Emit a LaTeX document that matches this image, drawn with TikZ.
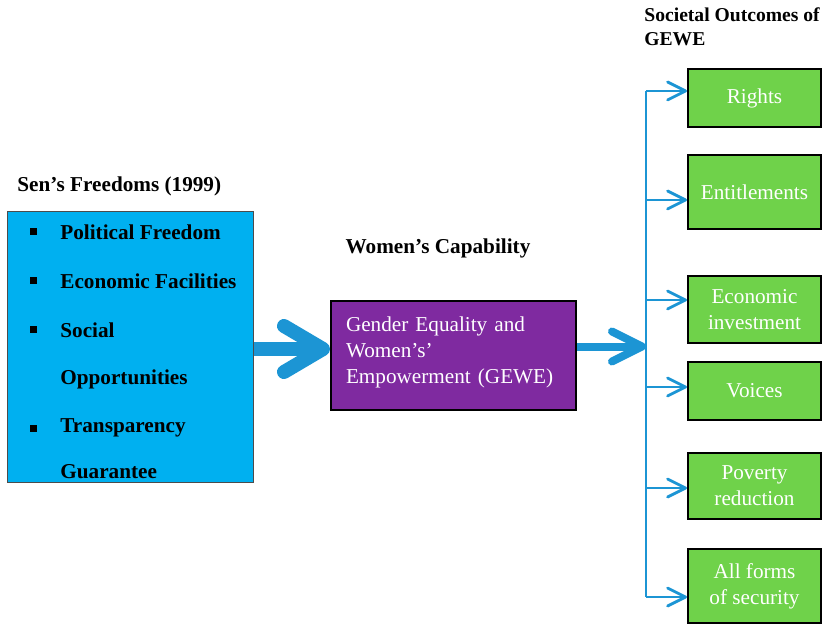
\documentclass[tikz,border=0pt]{standalone}
\usepackage{fontspec}
\setmainfont{Liberation Serif}
\usetikzlibrary{positioning, calc, arrows.meta}
\definecolor{senblue}{HTML}{00B0F0}
\definecolor{gewepurple}{HTML}{7F2AA0}
\definecolor{outgreen}{HTML}{6FD24A}
\definecolor{arrowblue}{HTML}{1C95D4}

\begin{document}
\begin{tikzpicture}[x=0.5pt, y=-0.5pt, font=\fontsize{10.6}{13}\selectfont,
  freedom/.style={anchor=west, inner xsep=0pt, font=\fontsize{10.6}{13}\selectfont\bfseries},
  outcome/.style={draw=black, line width=1pt, fill=outgreen, text=white, minimum width=66.5pt, align=center, inner sep=0pt},
  branch/.style={draw=arrowblue, line width=1.4pt, -{Straight Barb[length=9pt, width=9pt, round]}}]
  \useasboundingbox (0,0) rectangle (822,624);

  % Sen's freedoms
  \node[freedom] (sentitle) at (17,186) {Sen’s Freedoms (1999)};
  \node[draw=black!70, line width=0.5pt, fill=senblue, minimum width=123pt, minimum height=135pt] (sen) at (130,347) {};
  \foreach \y/\txt [count=\i] in {232/Political Freedom, 281/Economic Facilities, 330/Social, 428/Transparency} {
    \node[fill=black, inner sep=0pt, minimum size=3.5pt] (dot\i) at (33,\y) {};
    \node[freedom] (item\i) at (60,\y) {\txt};
  }
  \node[freedom] (item3b) at (60,379) {Opportunities};
  \node[freedom] (item4b) at (60,472) {Guarantee};

  % women's capability
  \node[font=\fontsize{10.6}{13}\selectfont\bfseries] (captitle) at (438,248) {Women’s Capability};
  \node[draw=black, line width=1pt, fill=gewepurple, text=white, minimum width=122.5pt, minimum height=54.5pt,
        text width=107.5pt, align=left, inner xsep=7.5pt] (gewe) at (453.5,355.5)
        {Gender Equality and\\Women’s’\\Empowerment (GEWE)\par\vspace{3pt}};
  \draw[arrowblue, line width=7pt, -{Straight Barb[length=19.5pt, width=23pt, round]}]
    ([yshift=3.25pt]gewe.west -| sen.east) -- ([yshift=3.25pt]gewe.west);

  % societal outcomes
  \node[font=\fontsize{9.8}{12}\selectfont\bfseries, anchor=north west, align=left, inner sep=0pt] (outtitle) at (644,7) {Societal Outcomes of\\GEWE};
  \node[outcome, minimum height=29pt] (rights) at (754.5,98) {Rights};
  \node[outcome, minimum height=37pt] (entitle) at (754.5,192) {Entitlements};
  \node[outcome, minimum height=33.5pt] (invest) at (754.5,309.5) {Economic\\investment};
  \node[outcome, minimum height=29pt] (voices) at (754.5,391) {Voices};
  \node[outcome, minimum height=33pt] (poverty) at (754.5,486) {Poverty\\reduction};
  \node[outcome, minimum height=37pt] (security) at (754.5,586) {All forms\\of security};

  \foreach \y/\target [count=\i] in {91/rights, 200/entitle, 300/invest, 387/voices, 488/poverty, 597/security} {
    \coordinate (b\i) at (646,\y);
    \draw[branch] (b\i) -- (b\i -| \target.west);
  }
  \draw[arrowblue, line width=1.4pt] (b1) -- (b6);
  \draw[arrowblue, line width=4pt, -{Straight Barb[length=15pt, width=15pt, round]}]
    ([yshift=4.5pt]gewe.east) -- ([yshift=4.5pt]gewe.east -| b1);
\end{tikzpicture}
\end{document}
